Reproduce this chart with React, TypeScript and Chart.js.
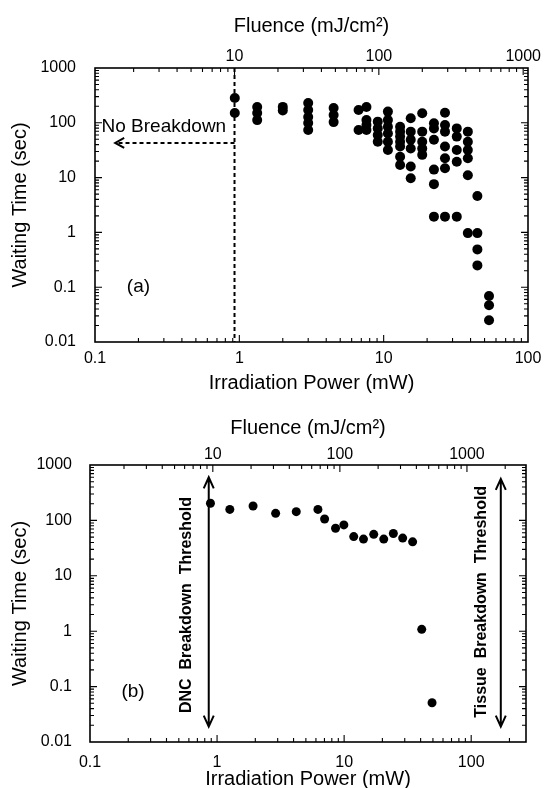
import React, { useEffect, useRef } from "react";
import { Chart, registerables } from "chart.js";

Chart.register(...registerables);

const FONT = "'Liberation Sans', Arial, Helvetica, sans-serif";
Chart.defaults.font.family = FONT;
Chart.defaults.color = "#000";

// Fluence (mJ/cm2) per mW of irradiation power
const FLUENCE_PER_MW = 10.8;

// ---- Panel (a): all measurements ----
const aPower = [
  0.93, 0.93,
  1.33, 1.33, 1.33,
  2.0, 2.0,
  3.0, 3.0, 3.0, 3.0, 3.0,
  4.5, 4.5, 4.5,
  6.7, 6.7,
  7.6, 7.6, 7.6, 7.6,
  9.1, 9.1, 9.1, 9.1,
  10.7, 10.7, 10.7, 10.7, 10.7, 10.7,
  13.0, 13.0, 13.0, 13.0, 13.0, 13.0, 13.0,
  15.4, 15.4, 15.4, 15.4, 15.4, 15.4,
  18.5, 18.5, 18.5, 18.5, 18.5,
  22.3, 22.3, 22.3, 22.3, 22.3, 22.3,
  26.6, 26.6, 26.6, 26.6, 26.6, 26.6, 26.6,
  32.1, 32.1, 32.1, 32.1, 32.1,
  38.3, 38.3, 38.3, 38.3, 38.3, 38.3,
  44.6, 44.6, 44.6, 44.6,
  53.7, 53.7, 53.7,
];
const aWait = [
  284, 151,
  194, 151, 112,
  195, 168,
  230, 171, 128, 99, 74,
  186, 139, 103,
  171, 74,
  194, 112, 91, 74,
  105, 79, 60, 45,
  160, 112, 85, 64, 45, 32,
  85, 69, 56, 45, 37, 24, 17,
  121, 69, 49, 34, 16, 9.7,
  149, 69, 45, 34, 26,
  98, 79, 49, 14, 7.6, 1.94,
  153, 91, 69, 37, 22.5, 14.8, 1.94,
  79, 56, 32, 19.5, 1.94,
  69, 45, 32, 22.5, 11, 0.97,
  4.6, 0.97, 0.49, 0.25,
  0.069, 0.047, 0.025,
];

// ---- Panel (b): averaged measurements ----
const bPower = [0.887, 1.26, 1.92, 2.89, 4.2, 6.22, 7.02, 8.56, 9.95, 11.9, 14.2, 17.1, 20.5, 24.4, 28.9, 34.6, 40.8, 49.2];
const bWait = [204, 158, 182, 134, 144, 158, 106, 72, 83, 51, 46, 56, 46, 58, 48, 41, 1.08, 0.051];

// ---- Axis ranges ----
const waitRange = [0.01, 1000];
const aPowerRange = [0.1, 100];
const bPowerRange = [0.1, 270];

// ---- Annotations ----
const aThresholdPower = 10 / FLUENCE_PER_MW;
const aArrowTipPower = 0.138;
const aArrowWait = 43;
const aNoBreakdownText = "No Breakdown";
const aNoBreakdownPos = [0.111, 85];
const aPanelLabelPos = [0.2, 0.1];

const bDncArrow = [0.86, 600, 0.019]; // power, top wait, bottom wait
const bTissueArrow = [171, 560, 0.019];
const bDncText = "DNC  Breakdown  Threshold";
const bDncTextPos = [0.58, 2.97];
const bTissueText = "Tissue  Breakdown  Threshold";
const bTissueTextPos = [121.6, 3.4];
const bPanelLabelPos = [0.218, 0.081];

function isDecade(v: number) {
  const l = Math.log10(v);
  return Math.abs(l - Math.round(l)) < 1e-6;
}
function decadeLabel(v: number) {
  const e = Math.round(Math.log10(v));
  return e < 0 ? Math.pow(10, e).toFixed(-e) : String(Math.pow(10, e));
}
const tickCb = (v: any) => (isDecade(Number(v)) ? decadeLabel(Number(v)) : "");

function logValues(min: number, max: number) {
  const out: { v: number; major: boolean }[] = [];
  for (let e = Math.floor(Math.log10(min)) - 1; e <= Math.ceil(Math.log10(max)); e++) {
    for (let m = 1; m <= 9; m++) {
      const v = m * Math.pow(10, e);
      if (v >= min * 1.0001 && v <= max * 0.9999) out.push({ v, major: m === 1 });
    }
  }
  return out;
}

const framePlugin = {
  id: "frameTicks",
  afterDraw(chart: any) {
    const { ctx, chartArea: a, scales } = chart;
    ctx.save();
    ctx.strokeStyle = "#000";
    ctx.lineWidth = 1.6;
    ctx.strokeRect(a.left, a.top, a.right - a.left, a.bottom - a.top);
    ctx.lineWidth = 1.1;
    const MAJ = 7, MIN = 4;
    for (const t of logValues(scales.x.min, scales.x.max)) {
      const x = scales.x.getPixelForValue(t.v);
      ctx.beginPath();
      ctx.moveTo(x, a.bottom);
      ctx.lineTo(x, a.bottom - (t.major ? MAJ : MIN));
      ctx.stroke();
    }
    for (const t of logValues(scales.xTop.min, scales.xTop.max)) {
      const x = scales.xTop.getPixelForValue(t.v);
      ctx.beginPath();
      ctx.moveTo(x, a.top);
      ctx.lineTo(x, a.top + (t.major ? MAJ : MIN));
      ctx.stroke();
    }
    for (const t of logValues(scales.y.min, scales.y.max)) {
      const y = scales.y.getPixelForValue(t.v);
      const L = t.major ? MAJ : MIN;
      ctx.beginPath();
      ctx.moveTo(a.left, y);
      ctx.lineTo(a.left + L, y);
      ctx.moveTo(a.right, y);
      ctx.lineTo(a.right - L, y);
      ctx.stroke();
    }
    ctx.restore();
  },
};

function vArrow(ctx: any, x: number, yTop: number, yBot: number) {
  ctx.beginPath();
  ctx.moveTo(x, yTop);
  ctx.lineTo(x, yBot);
  ctx.moveTo(x - 5, yTop + 11);
  ctx.lineTo(x, yTop);
  ctx.lineTo(x + 5, yTop + 11);
  ctx.moveTo(x - 5, yBot - 11);
  ctx.lineTo(x, yBot);
  ctx.lineTo(x + 5, yBot - 11);
  ctx.stroke();
}

function rotText(ctx: any, text: string, x: number, y: number) {
  ctx.save();
  ctx.translate(x, y);
  ctx.rotate(-Math.PI / 2);
  ctx.textAlign = "center";
  ctx.textBaseline = "middle";
  ctx.fillText(text, 0, 0);
  ctx.restore();
}

const annotA = {
  id: "annotA",
  afterDatasetsDraw(chart: any) {
    const { ctx, scales } = chart;
    const X = (v: number) => scales.x.getPixelForValue(v);
    const Y = (v: number) => scales.y.getPixelForValue(v);
    ctx.save();
    ctx.strokeStyle = "#000";
    ctx.fillStyle = "#000";
    ctx.lineWidth = 2;
    ctx.setLineDash([4, 3]);
    const xt = X(aThresholdPower);
    ctx.beginPath();
    ctx.moveTo(xt, Y(waitRange[1]));
    ctx.lineTo(xt, Y(waitRange[0]));
    ctx.stroke();
    const ya = Y(aArrowWait);
    const xa = X(aArrowTipPower);
    ctx.beginPath();
    ctx.moveTo(xt, ya);
    ctx.lineTo(xa + 2, ya);
    ctx.stroke();
    ctx.setLineDash([]);
    ctx.beginPath();
    ctx.moveTo(xa + 9, ya - 5);
    ctx.lineTo(xa, ya);
    ctx.lineTo(xa + 9, ya + 5);
    ctx.stroke();
    ctx.font = `19px ${FONT}`;
    ctx.textAlign = "left";
    ctx.textBaseline = "middle";
    ctx.fillText(aNoBreakdownText, X(aNoBreakdownPos[0]), Y(aNoBreakdownPos[1]));
    ctx.textAlign = "center";
    ctx.font = `19px ${FONT}`;
    ctx.fillText("(a)", X(aPanelLabelPos[0]), Y(aPanelLabelPos[1]));
    ctx.restore();
  },
};

const annotB = {
  id: "annotB",
  afterDatasetsDraw(chart: any) {
    const { ctx, scales } = chart;
    const X = (v: number) => scales.x.getPixelForValue(v);
    const Y = (v: number) => scales.y.getPixelForValue(v);
    ctx.save();
    ctx.strokeStyle = "#000";
    ctx.fillStyle = "#000";
    ctx.lineWidth = 2;
    vArrow(ctx, X(bDncArrow[0]), Y(bDncArrow[1]), Y(bDncArrow[2]));
    vArrow(ctx, X(bTissueArrow[0]), Y(bTissueArrow[1]), Y(bTissueArrow[2]));
    ctx.font = `bold 16px ${FONT}`;
    rotText(ctx, bDncText, X(bDncTextPos[0]), Y(bDncTextPos[1]));
    rotText(ctx, bTissueText, X(bTissueTextPos[0]), Y(bTissueTextPos[1]));
    ctx.font = `19px ${FONT}`;
    ctx.textAlign = "center";
    ctx.textBaseline = "middle";
    ctx.fillText("(b)", X(bPanelLabelPos[0]), Y(bPanelLabelPos[1]));
    ctx.restore();
  },
};

type Layout = {
  yWidth: number;
  padRight: number;
  topH: number;
  bottomH: number;
  xTickPad: number;
  xTickLH: number;
  xTitlePad: number;
  xTitleLH: number;
  topTickPad: number;
  topTitlePad: number;
  yTickPad: number;
  range: number[];
  radius: number;
};

function buildConfig(power: number[], wait: number[], L: Layout, annot: any): any {
  return {
    type: "scatter",
    data: {
      datasets: [
        {
          data: power.map((p, i) => ({ x: p, y: wait[i] })),
          backgroundColor: "#000",
          borderColor: "#000",
          borderWidth: 0,
          pointRadius: L.radius,
          xAxisID: "x",
          yAxisID: "y",
        },
      ],
    },
    options: {
      responsive: false,
      animation: false,
      devicePixelRatio: 1,
      layout: { padding: { left: 0, right: L.padRight, top: 0, bottom: 0 } },
      plugins: { legend: { display: false }, tooltip: { enabled: false } },
      scales: {
        x: {
          type: "logarithmic",
          position: "bottom",
          min: L.range[0],
          max: L.range[1],
          grid: { display: false },
          border: { display: false },
          ticks: {
            autoSkip: false,
            maxRotation: 0,
            padding: L.xTickPad,
            color: "#000",
            font: { size: 16, lineHeight: L.xTickLH },
            callback: tickCb,
          },
          title: {
            display: true,
            text: "Irradiation Power (mW)",
            color: "#000",
            font: { size: 20, lineHeight: L.xTitleLH },
            padding: { top: 0, bottom: L.xTitlePad },
          },
          afterFit: (s: any) => {
            s.height = L.bottomH;
          },
        },
        xTop: {
          type: "logarithmic",
          position: "top",
          min: L.range[0] * FLUENCE_PER_MW,
          max: L.range[1] * FLUENCE_PER_MW,
          grid: { display: false },
          border: { display: false },
          ticks: {
            autoSkip: false,
            maxRotation: 0,
            padding: L.topTickPad,
            color: "#000",
            font: { size: 16, lineHeight: 1.2 },
            callback: tickCb,
          },
          title: {
            display: true,
            text: "Fluence (mJ/cm²)",
            color: "#000",
            font: { size: 20, lineHeight: 1.2 },
            padding: { top: L.topTitlePad, bottom: 0 },
          },
          afterFit: (s: any) => {
            s.height = L.topH;
          },
        },
        y: {
          type: "logarithmic",
          position: "left",
          min: waitRange[0],
          max: waitRange[1],
          grid: { display: false },
          border: { display: false },
          ticks: {
            autoSkip: false,
            padding: L.yTickPad,
            color: "#000",
            font: { size: 16, lineHeight: 1.2 },
            callback: tickCb,
          },
          title: {
            display: true,
            text: "Waiting Time (sec)",
            color: "#000",
            font: { size: 20, lineHeight: 1.2 },
            padding: { top: 8, bottom: 0 },
          },
          afterFit: (s: any) => {
            s.width = L.yWidth;
          },
        },
      },
    },
    plugins: [framePlugin, annot],
  };
}

const layoutA: Layout = {
  yWidth: 95,
  padRight: 18,
  topH: 68,
  bottomH: 58,
  xTickPad: 0,
  xTickLH: 1.1,
  xTitlePad: 5,
  xTitleLH: 1.2,
  topTickPad: -6,
  topTitlePad: 14,
  yTickPad: 11,
  range: aPowerRange,
  radius: 5,
};

const layoutB: Layout = {
  yWidth: 90,
  padRight: 20,
  topH: 65,
  bottomH: 46,
  xTickPad: 3,
  xTickLH: 1.2,
  xTitlePad: 0,
  xTitleLH: 0.9,
  topTickPad: -7,
  topTitlePad: 16,
  yTickPad: 10,
  range: bPowerRange,
  radius: 4.5,
};

function Panel({ config, top, height }: { config: () => any; top: number; height: number }) {
  const ref = useRef<HTMLCanvasElement | null>(null);
  useEffect(() => {
    const chart = new Chart(ref.current as HTMLCanvasElement, config());
    return () => chart.destroy();
  }, []);
  return (
    <canvas
      ref={ref}
      width={546}
      height={height}
      style={{ position: "absolute", left: 0, top, width: 546, height }}
    />
  );
}

export default function App() {
  return (
    <div style={{ position: "absolute", left: 0, top: 0, width: 546, height: 788, background: "#fff" }}>
      <Panel top={0} height={400} config={() => buildConfig(aPower, aWait, layoutA, annotA)} />
      <Panel top={400} height={388} config={() => buildConfig(bPower, bWait, layoutB, annotB)} />
    </div>
  );
}
